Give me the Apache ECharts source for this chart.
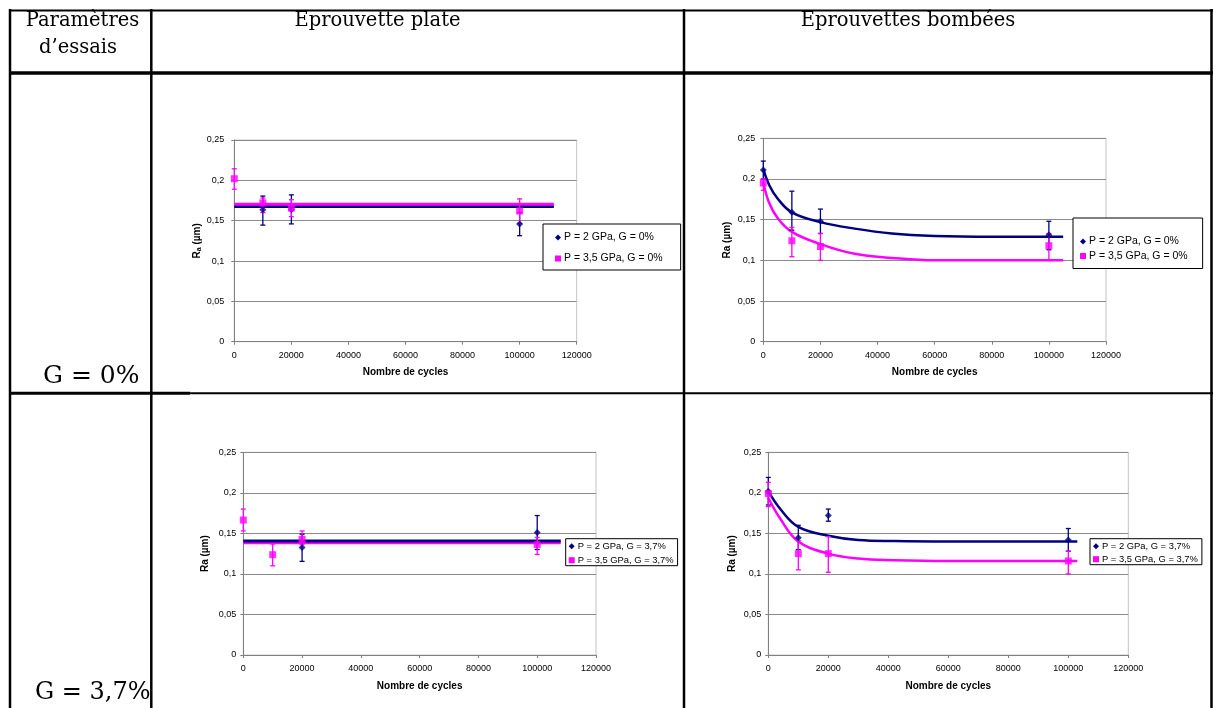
<!DOCTYPE html>
<html>
<head>
<meta charset="utf-8">
<script src="https://cdn.jsdelivr.net/npm/echarts@6/dist/echarts.min.js"></script>
<style>html,body{margin:0;padding:0;background:#fff}#c{width:1214px;height:708px}</style>
</head>
<body>
<div id="c"></div>
<script>
// ---------- data ----------
const xTicks = [0, 20000, 40000, 60000, 80000, 100000, 120000];
const yTicks = [0, 0.05, 0.1, 0.15, 0.2, 0.25];
const colHeaders = ['Eprouvette plate', 'Eprouvettes bombées'];
const rowHeader = ['Paramètres', 'd’essais'];
const rowLabels = ['G = 0%', 'G = 3,7%'];
const xTitle = 'Nombre de cycles';
const yTitle = 'Ra (µm)';

const names1 = ['P = 2 GPa, G = 0%', 'P = 3,5 GPa, G = 0%'];
const names2 = ['P = 2 GPa, G = 3,7%', 'P = 3,5 GPa, G = 3,7%'];

// chart 1 : flat, G = 0%
const c1BluePts = [[10000, 0.1634], [20000, 0.164], [100000, 0.146]];
const c1BlueErr = [[10000, 0.1445, 0.1805], [20000, 0.146, 0.182], [100000, 0.1314, 0.160]];
const c1PinkPts = [[0, 0.202], [10000, 0.172], [20000, 0.1655], [100000, 0.162]];
const c1PinkErr = [[0, 0.189, 0.2143], [10000, 0.160, 0.178], [20000, 0.155, 0.176], [100000, 0.1467, 0.177]];
const c1BlueTrend = [[0, 0.1675], [112000, 0.1675]];
const c1PinkTrend = [[0, 0.1705], [112000, 0.1705]];

// chart 2 : curved, G = 0%
const c2BluePts = [[0, 0.211], [10000, 0.159], [20000, 0.148], [100000, 0.131]];
const c2BlueErr = [[0, 0.200, 0.222], [10000, 0.137, 0.185], [20000, 0.133, 0.163], [100000, 0.113, 0.148]];
const c2PinkPts = [[0, 0.195], [10000, 0.124], [20000, 0.117], [100000, 0.118]];
const c2PinkErr = [[0, 0.186, 0.200], [10000, 0.1045, 0.1405], [20000, 0.100, 0.133], [100000, 0.100, 0.133]];
const c2BlueTrend = [[0, 0.212], [2000, 0.193], [5000, 0.176], [10000, 0.159], [20000, 0.147], [32000, 0.139], [45000, 0.133], [60000, 0.130], [80000, 0.129], [105000, 0.129]];
const c2PinkTrend = [[0, 0.196], [2000, 0.171], [5000, 0.152], [10000, 0.135], [20000, 0.120], [32000, 0.108], [45000, 0.103], [60000, 0.100], [80000, 0.100], [105000, 0.100]];

// chart 3 : flat, G = 3,7%
const c3BluePts = [[20000, 0.1326], [100000, 0.151]];
const c3BlueErr = [[20000, 0.1155, 0.149], [100000, 0.130, 0.172]];
const c3PinkPts = [[0, 0.1664], [10000, 0.1237], [20000, 0.1426], [100000, 0.136]];
const c3PinkErr = [[0, 0.153, 0.180], [10000, 0.110, 0.137], [20000, 0.136, 0.153], [100000, 0.124, 0.145]];
const c3BlueTrend = [[0, 0.1405], [108000, 0.1405]];
const c3PinkTrend = [[0, 0.1385], [108000, 0.1385]];

// chart 4 : curved, G = 3,7%
const c4BluePts = [[0, 0.202], [10000, 0.1445], [20000, 0.172], [100000, 0.1418]];
const c4BlueErr = [[0, 0.185, 0.219], [10000, 0.130, 0.160], [20000, 0.165, 0.180], [100000, 0.128, 0.156]];
const c4PinkPts = [[0, 0.199], [10000, 0.125], [20000, 0.125], [100000, 0.116]];
const c4PinkErr = [[0, 0.183, 0.213], [10000, 0.105, 0.141], [20000, 0.102, 0.146], [100000, 0.100, 0.128]];
const c4BlueTrend = [[0, 0.202], [4000, 0.180], [10000, 0.158], [20000, 0.147], [30000, 0.1418], [42000, 0.1405], [60000, 0.140], [80000, 0.140], [103000, 0.140]];
const c4PinkTrend = [[0, 0.194], [4000, 0.168], [10000, 0.140], [20000, 0.125], [30000, 0.119], [42000, 0.117], [60000, 0.116], [80000, 0.116], [103000, 0.116]];

// ---------- styling / layout ----------
const BLUE = '#000080', PINK = '#FF00FF';
const SANS = 'Liberation Sans, Arial, sans-serif';
const SERIF = 'DejaVu Serif, serif';

const panels = [
  { grid: { left: 234.3, top: 140, width: 342.4, height: 201.7 }, names: names1, sub: true, yGap: 26, yLabMargin: 10,
    legend: { left: 543, top: 224, padding: [8, 18, 6, 12], itemGap: 10, fontSize: 10.5 },
    bp: c1BluePts, be: c1BlueErr, pp: c1PinkPts, pe: c1PinkErr, bt: c1BlueTrend, pt: c1PinkTrend, smooth: false, lw: 3 },
  { grid: { left: 763.3, top: 138.3, width: 342.7, height: 203.4 }, names: names1, sub: false, yGap: 31, yLabMargin: 8,
    legend: { left: 1073, top: 218, padding: [18, 15, 7, 7], itemGap: 3.5, fontSize: 10.5 },
    bp: c2BluePts, be: c2BlueErr, pp: c2PinkPts, pe: c2PinkErr, bt: c2BlueTrend, pt: c2PinkTrend, smooth: true, lw: 2.5 },
  { grid: { left: 243.3, top: 452.3, width: 352.7, height: 202.7 }, names: names2, sub: false, yGap: 33, yLabMargin: 7,
    legend: { left: 565.7, top: 538.7, padding: [3, 4, 1, 3], itemGap: 5, fontSize: 9.4 },
    bp: c3BluePts, be: c3BlueErr, pp: c3PinkPts, pe: c3PinkErr, bt: c3BlueTrend, pt: c3PinkTrend, smooth: false, lw: 3 },
  { grid: { left: 768.3, top: 452.3, width: 360, height: 202.7 }, names: names2, sub: false, yGap: 31, yLabMargin: 7,
    legend: { left: 1090, top: 538.7, padding: [3, 4, 1, 3], itemGap: 4, fontSize: 9.4 },
    bp: c4BluePts, be: c4BlueErr, pp: c4PinkPts, pe: c4PinkErr, bt: c4BlueTrend, pt: c4PinkTrend, smooth: true, lw: 2.5 }
];

function errRender(color) {
  return function (params, api) {
    const x = api.value(0), lo = api.value(1), hi = api.value(2);
    const a = api.coord([x, lo]), b = api.coord([x, hi]);
    const w = 2.5, st = { stroke: color, lineWidth: 1.3 };
    return { type: 'group', children: [
      { type: 'line', shape: { x1: a[0], y1: a[1], x2: b[0], y2: b[1] }, style: st },
      { type: 'line', shape: { x1: a[0] - w, y1: a[1], x2: a[0] + w, y2: a[1] }, style: st },
      { type: 'line', shape: { x1: b[0] - w, y1: b[1], x2: b[0] + w, y2: b[1] }, style: st }
    ] };
  };
}

const grids = [], xAxes = [], yAxes = [], series = [], legends = [];
panels.forEach((p, i) => {
  grids.push(Object.assign({ show: true, borderColor: '#c4c4c4', borderWidth: 1, backgroundColor: 'transparent' }, p.grid));
  xAxes.push({
    gridIndex: i, type: 'value', min: xTicks[0], max: xTicks[xTicks.length - 1], interval: xTicks[1] - xTicks[0],
    name: xTitle, nameLocation: 'middle', nameGap: 26,
    nameTextStyle: { fontFamily: SANS, fontWeight: 'bold', fontSize: 10, color: '#000' },
    axisLine: { lineStyle: { color: '#808080', width: 1 } },
    axisTick: { show: true, length: 3, lineStyle: { color: '#808080' } },
    axisLabel: { fontFamily: SANS, fontSize: 9, color: '#000', margin: 9, formatter: v => String(v) },
    splitLine: { show: false }
  });
  const yName = p.sub ? '{r|R}{s|a}{r| (µm)}' : yTitle;
  yAxes.push({
    gridIndex: i, type: 'value', min: yTicks[0], max: yTicks[yTicks.length - 1], interval: yTicks[1] - yTicks[0],
    name: yName, nameLocation: 'middle', nameGap: p.yGap, nameRotate: 90,
    nameTextStyle: { fontFamily: SANS, fontWeight: 'bold', fontSize: 10, color: '#000',
      rich: { r: { fontFamily: SANS, fontWeight: 'bold', fontSize: 10 }, s: { fontFamily: SANS, fontWeight: 'bold', fontSize: 7, verticalAlign: 'bottom', padding: [4, 0, 0, 0] } } },
    axisLine: { show: true, lineStyle: { color: '#808080', width: 1 } },
    axisTick: { show: true, length: 3, lineStyle: { color: '#808080' } },
    axisLabel: { fontFamily: SANS, fontSize: 9, color: '#000', margin: p.yLabMargin,
      formatter: v => v === 0 ? '0' : String(Number(v.toFixed(2))).replace('.', ',') },
    splitLine: { show: true, lineStyle: { color: '#8a8a8a', width: 1 } }
  });
  const common = { xAxisIndex: i, yAxisIndex: i };
  series.push(Object.assign({ type: 'line', name: p.names[0] + ' trend', data: p.bt, showSymbol: false, symbol: 'none',
    smooth: p.smooth ? 0.4 : false, lineStyle: { color: BLUE, width: p.lw }, z: 2, silent: true }, common));
  series.push(Object.assign({ type: 'line', name: p.names[1] + ' trend', data: p.pt, showSymbol: false, symbol: 'none',
    smooth: p.smooth ? 0.4 : false, lineStyle: { color: PINK, width: p.lw }, z: i === 2 ? 1 : 3, silent: true }, common));
  series.push(Object.assign({ type: 'custom', name: p.names[0], data: p.be, encode: { x: 0, y: [1, 2] },
    renderItem: errRender(BLUE), itemStyle: { color: BLUE }, z: 4, silent: true }, common));
  series.push(Object.assign({ type: 'custom', name: p.names[1], data: p.pe, encode: { x: 0, y: [1, 2] },
    renderItem: errRender(PINK), itemStyle: { color: PINK }, z: 4, silent: true }, common));
  series.push(Object.assign({ type: 'scatter', name: p.names[0], data: p.bp, symbol: 'diamond', symbolSize: 7,
    itemStyle: { color: BLUE }, z: 5 }, common));
  series.push(Object.assign({ type: 'scatter', name: p.names[1], data: p.pp, symbol: 'rect', symbolSize: 7,
    itemStyle: { color: PINK }, z: 6 }, common));
  legends.push({
    left: p.legend.left, top: p.legend.top, orient: 'vertical', padding: p.legend.padding, itemGap: p.legend.itemGap,
    itemWidth: 6, itemHeight: 6, borderColor: '#000', borderWidth: 1, backgroundColor: '#fff',
    textStyle: { fontFamily: SANS, fontSize: p.legend.fontSize, color: '#000', padding: [0, 0, 0, -2] },
    selectedMode: false,
    data: [{ name: p.names[0], icon: 'diamond' }, { name: p.names[1], icon: 'rect' }]
  });
});

// ---------- table frame ----------
function hline(y, x1, x2, w) { return { type: 'line', shape: { x1, y1: y, x2, y2: y }, style: { stroke: '#000', lineWidth: w }, z: 100 }; }
function vline(x, y1, y2, w) { return { type: 'line', shape: { x1: x, y1, x2: x, y2 }, style: { stroke: '#000', lineWidth: w }, z: 100 }; }
function txt(x, y, s, size, align) {
  return { type: 'text', x, y, style: { text: s, font: size + 'px ' + SERIF, fill: '#000', align: align || 'center', verticalAlign: 'middle' }, z: 100 };
}
const graphic = [
  hline(10.5, 9, 1213, 2),
  vline(10, 9, 708, 2.5),
  vline(151.3, 9, 708, 2.5),
  vline(684, 9, 708, 2.5),
  vline(1211.5, 9, 708, 2.5),
  hline(73, 9, 1213, 3.5),
  hline(393.3, 9, 190, 3),
  hline(393.3, 190, 1213, 2),
  txt(82.5, 21, rowHeader[0], 19.5),
  txt(78, 48, rowHeader[1], 19.5),
  txt(377.5, 21, colHeaders[0], 19.5),
  txt(908, 21, colHeaders[1], 19.5),
  txt(43, 376, rowLabels[0], 25, 'left'),
  txt(35, 693, rowLabels[1], 24, 'left')
];

const chart = echarts.init(document.getElementById('c'), null, { renderer: 'canvas' });
chart.setOption({
  animation: false,
  backgroundColor: '#fff',
  grid: grids, xAxis: xAxes, yAxis: yAxes, series, legend: legends, graphic
});
</script>
</body>
</html>
